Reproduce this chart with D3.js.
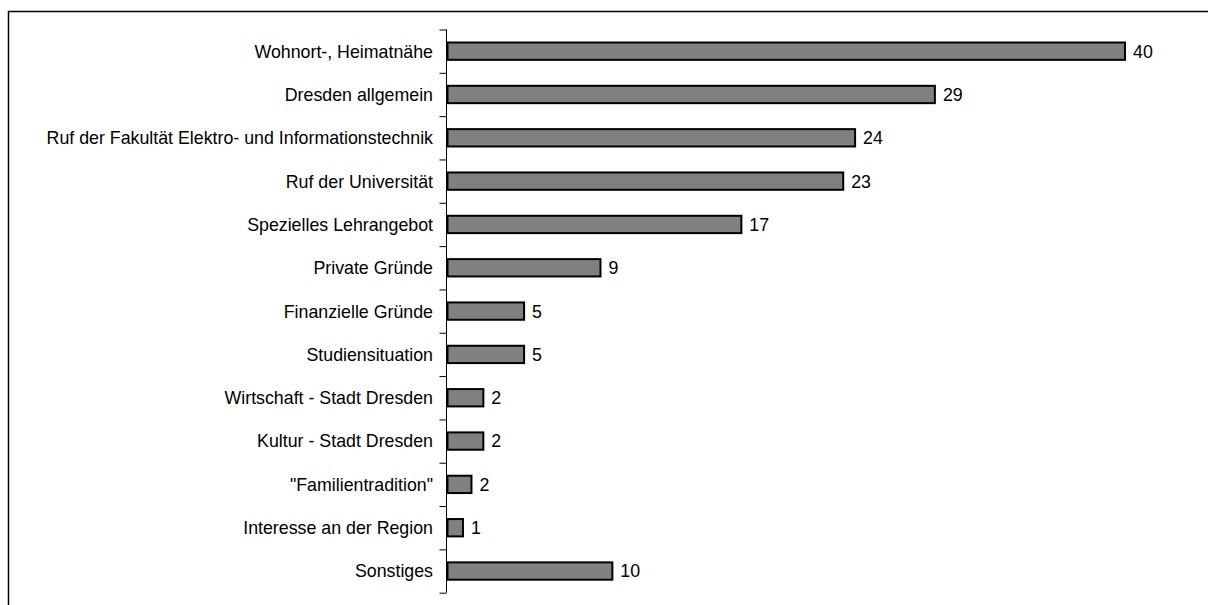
<!DOCTYPE html>
<html>
<head>
  <script src="https://d3js.org/d3.v7.min.js"></script>
  <style>
    body { margin: 0; background: #fff; }
    .cat-label, .val-label {
      font-family: "Liberation Sans", Arial, sans-serif;
      font-size: 17.8px;
      fill: #000;
    }
    .axis path, .axis line { stroke: #000; stroke-width: 1px; }
  </style>
</head>
<body>
  <div id="chart"></div>
  <script>
    // categories top to bottom
    var categories = [
      "Wohnort-, Heimatnähe",
      "Dresden allgemein",
      "Ruf der Fakultät Elektro- und Informationstechnik",
      "Ruf der Universität",
      "Spezielles Lehrangebot",
      "Private Gründe",
      "Finanzielle Gründe",
      "Studiensituation",
      "Wirtschaft - Stadt Dresden",
      "Kultur - Stadt Dresden",
      "\"Familientradition\"",
      "Interesse an der Region",
      "Sonstiges"
    ];
    // bar lengths (labels are the rounded values)
    var values = [40.0, 28.8, 24.1, 23.4, 17.4, 9.1, 4.6, 4.6, 2.2, 2.2, 1.5, 1.0, 9.8];

    var width = 1208, height = 605;
    var plotLeft = 447, plotTop = 29.5, plotBottom = 592.7;

    var svg = d3.select("#chart").append("svg")
      .attr("width", width)
      .attr("height", height);

    // outer frame (runs off the picture at right and bottom)
    svg.append("rect")
      .attr("x", 8.5)
      .attr("y", 11.5)
      .attr("width", 1300)
      .attr("height", 700)
      .attr("fill", "none")
      .attr("stroke", "#000")
      .attr("stroke-width", 1.5);

    var x = d3.scaleLinear()
      .domain([0, d3.max(values)])
      .range([plotLeft, 1126]);

    var y = d3.scaleBand()
      .domain(categories)
      .range([plotTop, plotBottom])
      .paddingInner(0.6)
      .paddingOuter(0.3);

    // axis line with ticks between categories
    var tickPos = d3.range(categories.length + 1).map(function (i) {
      return plotTop + i * (plotBottom - plotTop) / categories.length;
    });
    var yEdge = d3.scaleLinear().domain([plotTop, plotBottom]).range([plotTop, plotBottom]);
    var axis = svg.append("g")
      .attr("class", "axis")
      .attr("transform", "translate(" + (plotLeft - 0.5) + ",0)")
      .call(d3.axisLeft(yEdge).tickValues(tickPos).tickSize(7).tickSizeOuter(0).tickFormat(""));
    axis.select(".domain").attr("d", "M0," + plotTop + "V" + plotBottom);

    svg.append("g")
      .selectAll("rect")
      .data(values)
      .enter().append("rect")
      .attr("x", x(0) + 0.5)
      .attr("y", function (d, i) { return y(categories[i]); })
      .attr("width", function (d) { return x(d) - x(0) - 1.5; })
      .attr("height", y.bandwidth())
      .attr("fill", "#808080")
      .attr("stroke", "#000")
      .attr("stroke-width", 2);

    svg.append("g")
      .selectAll("text")
      .data(categories)
      .enter().append("text")
      .attr("class", "cat-label")
      .attr("x", 433)
      .attr("y", function (d) { return y(d) + y.bandwidth() / 2; })
      .attr("dy", "0.36em")
      .attr("text-anchor", "end")
      .text(function (d) { return d; });

    svg.append("g")
      .selectAll("text")
      .data(values)
      .enter().append("text")
      .attr("class", "val-label")
      .attr("x", function (d) { return x(d) + 7; })
      .attr("y", function (d, i) { return y(categories[i]) + y.bandwidth() / 2; })
      .attr("dy", "0.36em")
      .text(function (d) { return Math.round(d); });
  </script>
</body>
</html>
